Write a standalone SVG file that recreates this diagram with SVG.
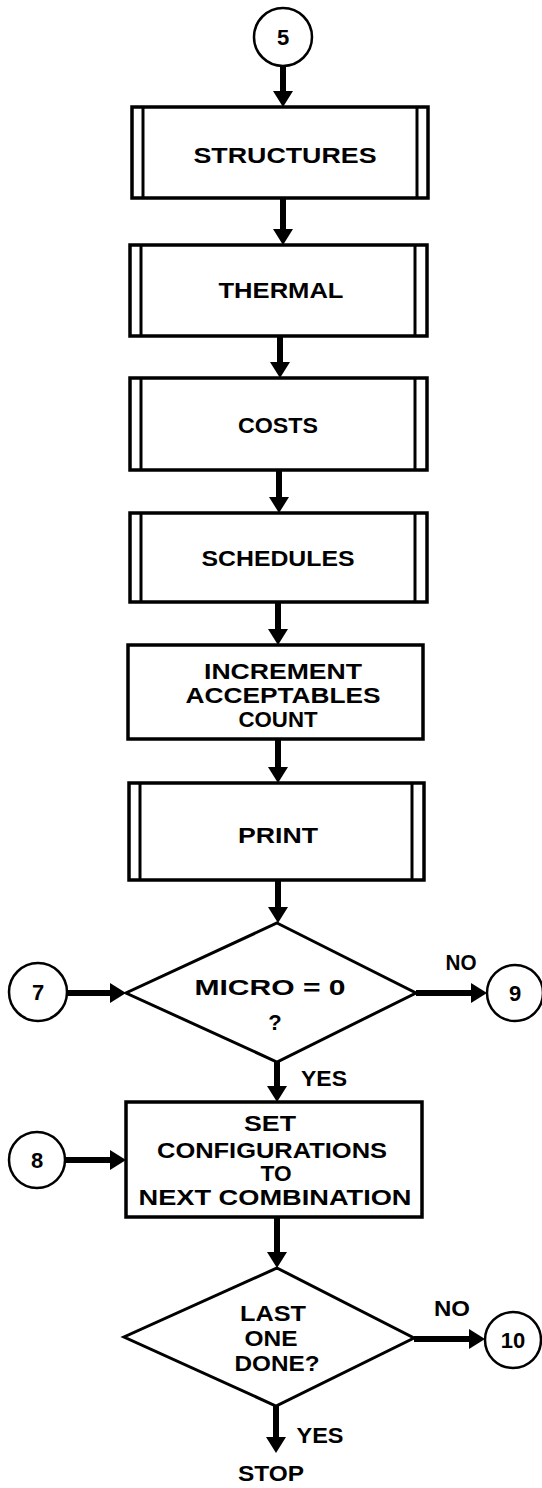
<svg xmlns="http://www.w3.org/2000/svg" width="542" height="1488" viewBox="0 0 542 1488">
<defs>
<marker id="ah" viewBox="0 0 16 20" refX="6" refY="10" markerWidth="16" markerHeight="20" markerUnits="userSpaceOnUse" orient="auto"><path d="M0,0 L16,10 L0,20 z" fill="#000"/></marker>
</defs>
<style>
.box{fill:#fff;stroke:#000;stroke-width:3.5}
.inner{stroke:#000;stroke-width:3}
.dia{fill:#fff;stroke:#000;stroke-width:3}
.conn{fill:#fff;stroke:#000;stroke-width:2.5}
.t{font-family:"Liberation Sans",Arial,sans-serif;font-weight:bold;font-size:22px;text-anchor:middle;fill:#000}
.arr{stroke:#000;stroke-width:6;fill:none;marker-end:url(#ah)}
</style>
<rect x="0" y="0" width="542" height="1488" fill="#fff"/>
<g id="connectors">
<line class="arr" x1="283" y1="66" x2="283" y2="97"/>
<line class="arr" x1="283" y1="198" x2="283" y2="235"/>
<line class="arr" x1="280" y1="336" x2="280" y2="368"/>
<line class="arr" x1="279" y1="470" x2="279" y2="503"/>
<line class="arr" x1="278" y1="602" x2="278" y2="635"/>
<line class="arr" x1="278" y1="739" x2="278" y2="773"/>
<line class="arr" x1="278" y1="880" x2="278" y2="913"/>
<line class="arr" x1="277" y1="1062" x2="277" y2="1092"/>
<line class="arr" x1="277" y1="1217" x2="277" y2="1258"/>
<line class="arr" x1="276" y1="1406" x2="276" y2="1443"/>
<line class="arr" x1="67" y1="993" x2="116" y2="993"/>
<line class="arr" x1="416" y1="993" x2="477" y2="993"/>
<line class="arr" x1="66" y1="1160" x2="116" y2="1160"/>
<line class="arr" x1="414" y1="1339" x2="475" y2="1339"/>
<text class="t" x="461" y="970" textLength="31" lengthAdjust="spacingAndGlyphs">NO</text>
<text class="t" x="324" y="1086" textLength="46" lengthAdjust="spacingAndGlyphs">YES</text>
<text class="t" x="452" y="1316" textLength="36" lengthAdjust="spacingAndGlyphs">NO</text>
<text class="t" x="320" y="1443" textLength="47" lengthAdjust="spacingAndGlyphs">YES</text>
</g>
<g id="c5"><circle class="conn" cx="283" cy="37" r="29"/><text class="t" x="283" y="45">5</text></g>
<g id="structures">
<rect class="box" x="132" y="107" width="296" height="91"/>
<line class="inner" x1="143" y1="107" x2="143" y2="198"/><line class="inner" x1="417" y1="107" x2="417" y2="198"/>
<text class="t" x="285" y="163" textLength="183" lengthAdjust="spacingAndGlyphs">STRUCTURES</text>
</g>
<g id="thermal">
<rect class="box" x="130" y="245" width="297" height="91"/>
<line class="inner" x1="141" y1="245" x2="141" y2="336"/><line class="inner" x1="415" y1="245" x2="415" y2="336"/>
<text class="t" x="281" y="298" textLength="125" lengthAdjust="spacingAndGlyphs">THERMAL</text>
</g>
<g id="costs">
<rect class="box" x="130" y="378" width="297" height="92"/>
<line class="inner" x1="141" y1="378" x2="141" y2="470"/><line class="inner" x1="415" y1="378" x2="415" y2="470"/>
<text class="t" x="278" y="433" textLength="80" lengthAdjust="spacingAndGlyphs">COSTS</text>
</g>
<g id="schedules">
<rect class="box" x="130" y="513" width="297" height="89"/>
<line class="inner" x1="141" y1="513" x2="141" y2="602"/><line class="inner" x1="415" y1="513" x2="415" y2="602"/>
<text class="t" x="278" y="566" textLength="153" lengthAdjust="spacingAndGlyphs">SCHEDULES</text>
</g>
<g id="increment">
<rect class="box" x="128" y="645" width="295" height="94"/>
<text class="t" x="283" y="679" textLength="158" lengthAdjust="spacingAndGlyphs">INCREMENT</text>
<text class="t" x="283" y="703" textLength="195" lengthAdjust="spacingAndGlyphs">ACCEPTABLES</text>
<text class="t" x="278" y="727" textLength="79" lengthAdjust="spacingAndGlyphs">COUNT</text>
</g>
<g id="print">
<rect class="box" x="129" y="783" width="295" height="97"/>
<line class="inner" x1="140" y1="783" x2="140" y2="880"/><line class="inner" x1="412" y1="783" x2="412" y2="880"/>
<text class="t" x="278" y="843" textLength="80" lengthAdjust="spacingAndGlyphs">PRINT</text>
</g>
<g id="micro">
<polygon class="dia" points="277,923 416,993 277,1062 126,993"/>
<text class="t" x="270" y="995" textLength="151" lengthAdjust="spacingAndGlyphs">MICRO = 0</text>
<text class="t" x="275" y="1030">?</text>
</g>
<g id="c7"><circle class="conn" cx="38" cy="992" r="29"/><text class="t" x="38" y="1000">7</text></g>
<g id="c9"><circle class="conn" cx="515" cy="993" r="28"/><text class="t" x="515" y="1001">9</text></g>
<g id="setconf">
<rect class="box" x="126" y="1102" width="296" height="115"/>
<text class="t" x="270" y="1131" textLength="52" lengthAdjust="spacingAndGlyphs">SET</text>
<text class="t" x="272" y="1158" textLength="230" lengthAdjust="spacingAndGlyphs">CONFIGURATIONS</text>
<text class="t" x="276" y="1181" textLength="31" lengthAdjust="spacingAndGlyphs">TO</text>
<text class="t" x="275" y="1205" textLength="273" lengthAdjust="spacingAndGlyphs">NEXT COMBINATION</text>
</g>
<g id="c8"><circle class="conn" cx="37" cy="1160" r="28"/><text class="t" x="37" y="1168">8</text></g>
<g id="lastone">
<polygon class="dia" points="277,1268 414,1338 276,1406 124,1337"/>
<text class="t" x="273" y="1321" textLength="66" lengthAdjust="spacingAndGlyphs">LAST</text>
<text class="t" x="271" y="1346" textLength="53" lengthAdjust="spacingAndGlyphs">ONE</text>
<text class="t" x="277" y="1371" textLength="85" lengthAdjust="spacingAndGlyphs">DONE?</text>
</g>
<g id="c10"><circle class="conn" cx="513" cy="1340" r="28"/><text class="t" x="513" y="1348">10</text></g>
<g id="stop"><text class="t" x="271" y="1481" textLength="66" lengthAdjust="spacingAndGlyphs">STOP</text></g>
</svg>
